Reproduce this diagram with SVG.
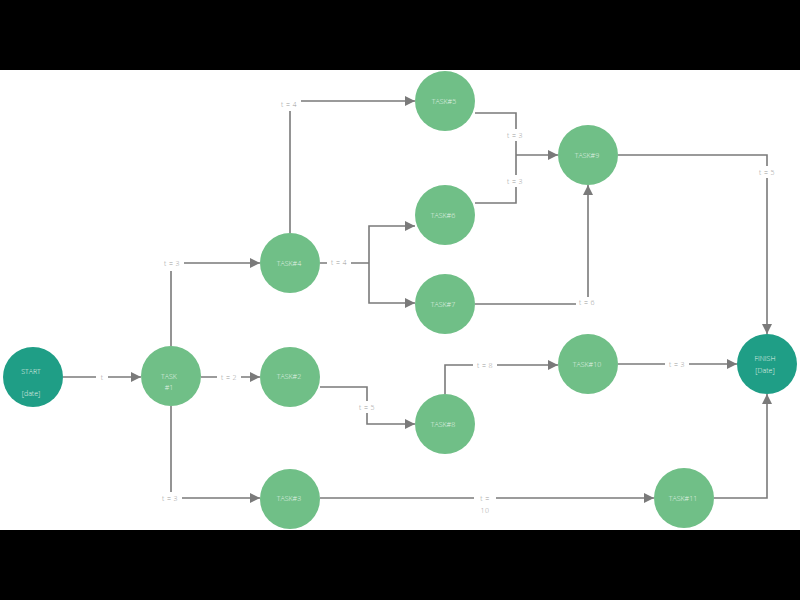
<svg xmlns="http://www.w3.org/2000/svg" width="800" height="600" viewBox="0 0 800 600">
<defs>
<marker id="arr" viewBox="0 0 10 10" refX="10" refY="5" markerWidth="10" markerHeight="10" markerUnits="userSpaceOnUse" orient="auto">
<path d="M0,0 L10,5 L0,10 z" fill="#7a7a7a"/>
</marker>
</defs>
<style>
.c{fill:none;stroke:#7a7a7a;stroke-width:1.6}
.a{marker-end:url(#arr)}
.lb{fill:#ffffff}
.lt{font-family:"Open Sans",Lato,"Liberation Sans",sans-serif;font-size:7px;font-weight:300;fill:#9a9a9a;text-anchor:middle;letter-spacing:0.4px}
.task{fill:#70bf87}
.end{fill:#1f9e86}
.nt{font-family:"Open Sans",Lato,"Liberation Sans",sans-serif;font-size:7px;font-weight:300;fill:#e4f3e9;text-anchor:middle}
</style>
<rect x="0" y="0" width="800" height="600" fill="#ffffff"/>
<g id="connectors">
<path class="c a" d="M63,377 H141"/>
<path class="c a" d="M171,346 V263 H260"/>
<path class="c a" d="M201,377 H260"/>
<path class="c a" d="M171,406 V498 H260"/>
<path class="c a" d="M290,233 V101 H415"/>
<path class="c" d="M320,263 H369"/>
<path class="c a" d="M369,263 V226 H415"/>
<path class="c a" d="M369,263 V303 H415"/>
<path class="c" d="M475,113 H516 V155"/>
<path class="c" d="M475,203 H516 V155"/>
<path class="c a" d="M516,155 H558"/>
<path class="c a" d="M475,304 H588 V185"/>
<path class="c a" d="M618,155 H767 V334"/>
<path class="c a" d="M320,387 H367 V424 H415"/>
<path class="c a" d="M445,394 V365 H558"/>
<path class="c a" d="M618,364 H737"/>
<path class="c a" d="M320,498 H654"/>
<path class="c a" d="M714,498 H767 V394"/>
<g id="labels">
<rect class="lb" x="96" y="371" width="12" height="12"/><text class="lt" x="102" y="380">t</text>
<rect class="lb" x="160" y="257" width="24" height="14"/><text class="lt" x="172" y="266">t = 3</text>
<rect class="lb" x="217" y="371" width="24" height="12"/><text class="lt" x="229" y="380">t = 2</text>
<rect class="lb" x="158" y="492" width="24" height="12"/><text class="lt" x="170" y="501">t = 3</text>
<rect class="lb" x="277" y="97" width="24" height="14"/><text class="lt" x="289" y="107">t = 4</text>
<rect class="lb" x="327" y="256" width="24" height="14"/><text class="lt" x="339" y="265">t = 4</text>
<rect class="lb" x="503" y="129" width="24" height="12"/><text class="lt" x="515" y="138">t = 3</text>
<rect class="lb" x="503" y="175" width="24" height="12"/><text class="lt" x="515" y="184">t = 3</text>
<rect class="lb" x="576" y="297" width="22" height="12"/><text class="lt" x="587" y="305">t = 6</text>
<rect class="lb" x="755" y="166" width="24" height="12"/><text class="lt" x="767" y="175">t = 5</text>
<rect class="lb" x="355" y="401" width="24" height="12"/><text class="lt" x="367" y="410">t = 5</text>
<rect class="lb" x="473" y="359" width="24" height="12"/><text class="lt" x="485" y="368">t = 8</text>
<rect class="lb" x="665" y="358" width="24" height="12"/><text class="lt" x="677" y="367">t = 3</text>
<rect class="lb" x="474" y="492" width="22" height="22"/><text class="lt" x="485" y="501">t =</text><text class="lt" x="485" y="513">10</text>
</g>
</g>
<g id="start"><circle class="end" cx="33" cy="377" r="30"/><text class="nt" x="31" y="374">START</text><text class="nt" x="31" y="396">[date]</text></g>
<g id="task1"><circle class="task" cx="171" cy="376" r="30"/><text class="nt" x="169" y="379">TASK</text><text class="nt" x="169" y="390">#1</text></g>
<g id="task2"><circle class="task" cx="290" cy="377" r="30"/><text class="nt" x="289" y="379">TASK#2</text></g>
<g id="task3"><circle class="task" cx="290" cy="499" r="30"/><text class="nt" x="289" y="501">TASK#3</text></g>
<g id="task4"><circle class="task" cx="290" cy="263" r="30"/><text class="nt" x="289" y="266">TASK#4</text></g>
<g id="task5"><circle class="task" cx="445" cy="101" r="30"/><text class="nt" x="444" y="104">TASK#5</text></g>
<g id="task6"><circle class="task" cx="445" cy="215" r="30"/><text class="nt" x="443" y="218">TASK#6</text></g>
<g id="task7"><circle class="task" cx="445" cy="304" r="30"/><text class="nt" x="443" y="307">TASK#7</text></g>
<g id="task8"><circle class="task" cx="445" cy="424" r="30"/><text class="nt" x="443" y="427">TASK#8</text></g>
<g id="task9"><circle class="task" cx="588" cy="155" r="30"/><text class="nt" x="587" y="158">TASK#9</text></g>
<g id="task10"><circle class="task" cx="588" cy="364" r="30"/><text class="nt" x="587" y="367">TASK#10</text></g>
<g id="task11"><circle class="task" cx="684" cy="498" r="30"/><text class="nt" x="683" y="501">TASK#11</text></g>
<g id="finish"><circle class="end" cx="767" cy="364" r="30"/><text class="nt" x="765" y="361">FINISH</text><text class="nt" x="765" y="373">[Date]</text></g>
<rect x="0" y="0" width="800" height="70" fill="#000000"/>
<rect x="0" y="530" width="800" height="70" fill="#000000"/>
</svg>
